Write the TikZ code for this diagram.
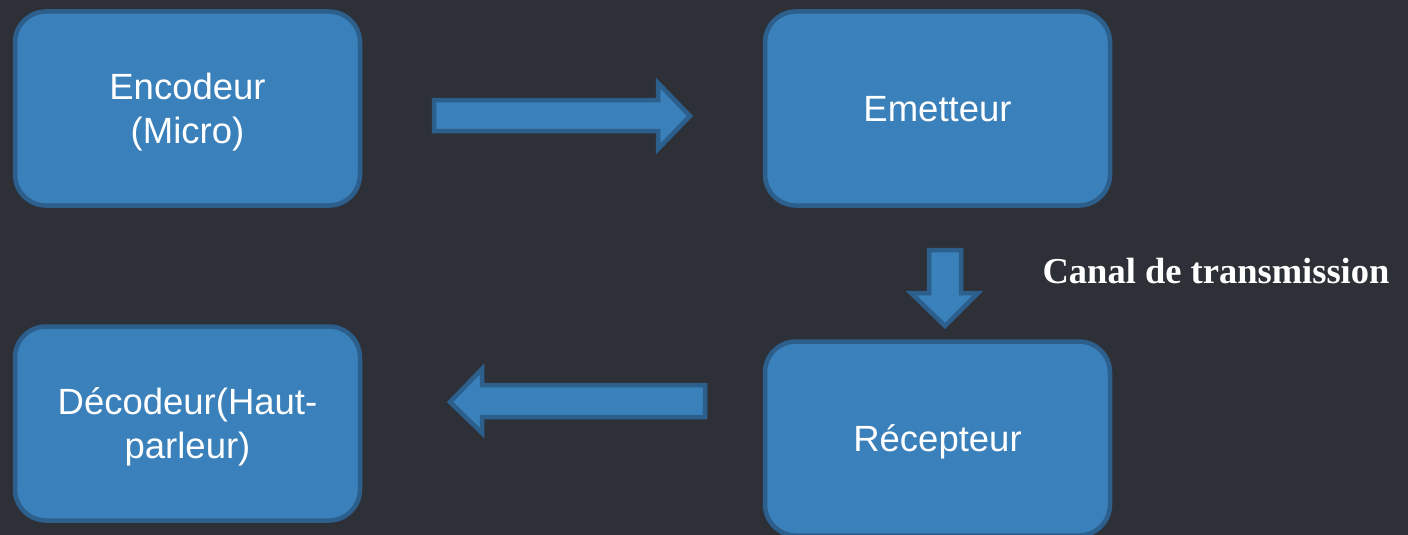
\documentclass[tikz,border=0pt]{standalone}
\usepackage{fontspec}
\setmainfont{Liberation Sans}
\newfontfamily\serifbold{Liberation Serif}
\definecolor{bgcol}{HTML}{2E3038}
\definecolor{boxfill}{HTML}{3A80BA}
\definecolor{boxline}{HTML}{2C5F8C}
\tikzset{
  box/.style={draw=boxline, fill=boxfill, line width=4.5pt, rounded corners=31pt,
    minimum width=345pt, minimum height=194pt, inner sep=0pt, align=center,
    text depth=0pt, text=white, font=\fontsize{36.5}{44}\selectfont},
  blockarrow/.style={draw=boxline, fill=boxfill, line width=4.5pt, line join=miter},
  lbl/.style={text=white, font=\serifbold\bfseries\fontsize{36.5}{44}\selectfont, inner sep=0pt, anchor=base}
}
\begin{document}
\begin{tikzpicture}[x=1pt,y=-1pt]
\fill[bgcol] (0,0) rectangle (1408,535);
\useasboundingbox (0,0) rectangle (1408,535);
\clip (0,0) rectangle (1408,535);
\node[box] (enc) at (187.5,108.5) {Encodeur\\(Micro)};
\node[box] (emt) at (937.5,108.5) {Emetteur};
\node[box] (dec) at (187.5,423.5) {Décodeur(Haut-\\parleur)};
\node[box] (rec) at (937.5,438.5) {Récepteur};
% right arrow
\draw[blockarrow] (434,100) -- (658,100) -- (658,83) -- (690,116) -- (658,149) -- (658,131) -- (434,131) -- cycle;
% down arrow
\draw[blockarrow] (929,250) -- (961,250) -- (961,293) -- (978,293) -- (945,326) -- (911,293) -- (929,293) -- cycle;
% left arrow
\draw[blockarrow] (705,385) -- (482,385) -- (482,369) -- (450,402) -- (482,433) -- (482,417) -- (705,417) -- cycle;
\node[lbl] (canal) at (1216,283) {Canal de transmission};
\end{tikzpicture}
\end{document}
